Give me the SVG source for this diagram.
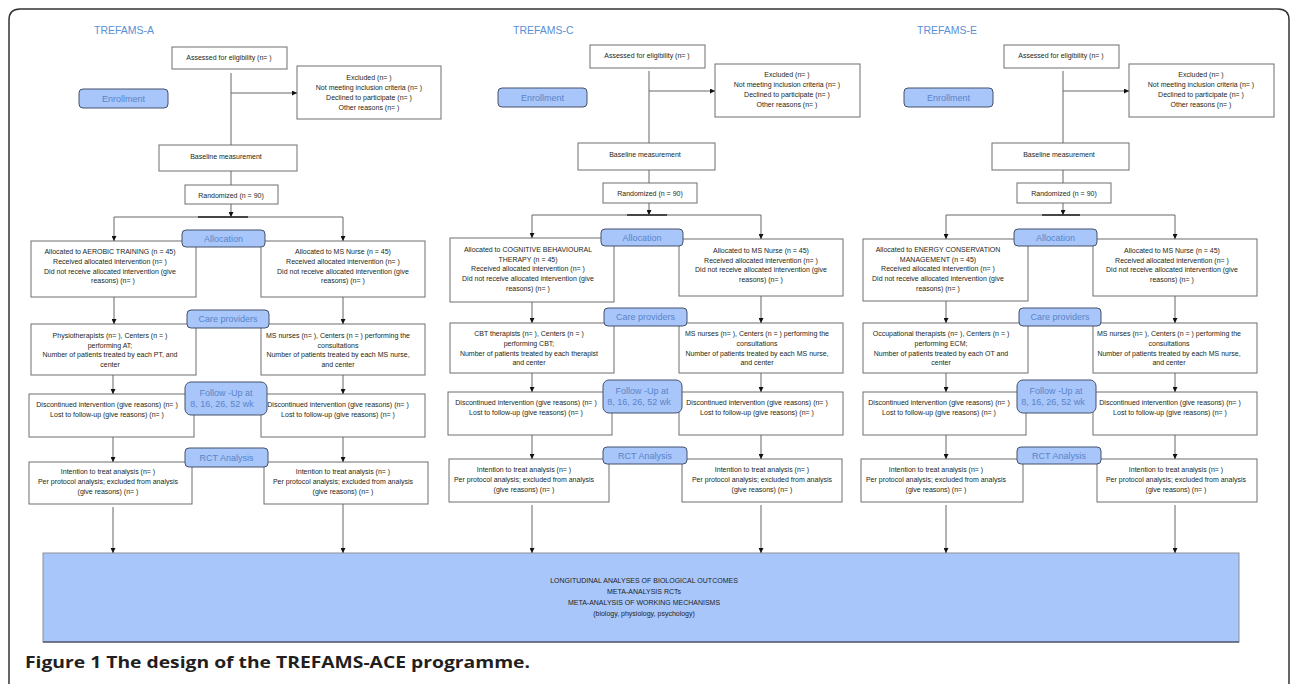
<svg xmlns="http://www.w3.org/2000/svg" width="1290" height="684" viewBox="0 0 1290 684">
<defs>
<marker id="ah" markerWidth="5" markerHeight="5" refX="5" refY="2.5" orient="auto" markerUnits="userSpaceOnUse"><path d="M0,0 L5,2.5 L0,5 z" fill="#111"/></marker>
<style>
.box{fill:#fff;stroke:#6e6e6e;stroke-width:1}
.lab{fill:#a8c6fa;stroke:#44506a;stroke-width:1}
.t{font-family:"Liberation Sans",Arial,sans-serif;font-size:7px;fill:#231f20;text-anchor:middle}
.lt{font-family:"Liberation Sans",Arial,sans-serif;font-size:9px;fill:#5a84c8;text-anchor:middle}
.ttl{font-family:"Liberation Sans",Arial,sans-serif;font-size:10.5px;fill:#5b8fd6}
.ln{stroke:#666;stroke-width:1;fill:none}
.ar{stroke:#666;stroke-width:1;fill:none;marker-end:url(#ah)}
.bt{font-family:"Liberation Sans",Arial,sans-serif;font-size:7px;fill:#231f20;text-anchor:middle}
.cap{font-family:"Open Sans","Liberation Sans",Arial,sans-serif;font-size:16px;font-weight:bold;fill:#231f20}
</style>
</defs>
<rect x="0" y="0" width="1290" height="684" fill="#fff"/>
<path d="M9,684 V20 Q9,9 20,9 H1278 Q1289,9 1289,20 V684" fill="none" stroke="#333" stroke-width="1.5"/>

<!-- ===== Column A ===== -->
<g id="colA">
<text class="ttl" x="94" y="34">TREFAMS-A</text>
<g id="A-assessed"><rect class="box" x="172" y="47" width="115" height="22"/><text class="t" x="229" y="60">Assessed for eligibility (n=  )</text></g>
<g id="A-excluded"><rect class="box" x="297" y="66" width="144" height="53"/>
<text class="t" x="369" y="80">Excluded (n=  )</text><text class="t" x="369" y="90">Not meeting inclusion criteria (n=  )</text><text class="t" x="369" y="100">Declined to participate (n=  )</text><text class="t" x="369" y="110">Other reasons (n=  )</text></g>
<g id="A-baseline"><rect class="box" x="159" y="145" width="138" height="26"/><text class="t" x="226" y="159">Baseline measurement</text></g>
<g id="A-random"><rect class="box" x="185" y="185" width="93" height="19"/><text class="t" x="231" y="198">Randomized (n =  90)</text></g>
<g id="A-alloc1"><rect class="box" x="31" y="241" width="165" height="56"/>
<text class="t" x="110" y="254">Allocated to AEROBIC TRAINING (n = 45)</text><text class="t" x="110" y="264">Received allocated intervention (n=  )</text><text class="t" x="110" y="274">Did not receive allocated intervention (give</text><text class="t" x="113" y="283">reasons) (n=  )</text></g>
<g id="A-alloc2"><rect class="box" x="261" y="241" width="164" height="56"/>
<text class="t" x="343" y="254">Allocated to MS Nurse (n = 45)</text><text class="t" x="343" y="264">Received allocated intervention (n=  )</text><text class="t" x="343" y="274">Did not receive allocated intervention (give</text><text class="t" x="343" y="283">reasons) (n=  )</text></g>
<g id="A-care1"><rect class="box" x="31" y="324" width="165" height="51"/>
<text class="t" x="110" y="338">Physiotherapists (n=  ), Centers (n = )</text><text class="t" x="110" y="348">performing AT;</text><text class="t" x="110" y="357">Number of patients treated by each PT, and</text><text class="t" x="110" y="367">center</text></g>
<g id="A-care2"><rect class="box" x="261" y="324" width="164" height="51"/>
<text class="t" x="338" y="338">MS nurses (n=  ), Centers (n = ) performing the</text><text class="t" x="338" y="348">consultations</text><text class="t" x="338" y="357">Number of patients treated by each MS nurse,</text><text class="t" x="338" y="367">and center</text></g>
<g id="A-disc1"><rect class="box" x="29" y="394" width="165" height="43"/>
<text class="t" x="107" y="407">Discontinued intervention (give reasons) (n=  )</text><text class="t" x="107" y="417">Lost to follow-up (give reasons) (n=  )</text></g>
<g id="A-disc2"><rect class="box" x="261" y="394" width="164" height="43"/>
<text class="t" x="338" y="407">Discontinued intervention (give reasons) (n=  )</text><text class="t" x="338" y="417">Lost to follow-up (give reasons) (n=  )</text></g>
<g id="A-rct1"><rect class="box" x="29" y="462" width="163" height="42"/>
<text class="t" x="108" y="474">Intention to treat analysis (n=  )</text><text class="t" x="108" y="484">Per protocol analysis; excluded from analysis</text><text class="t" x="108" y="494">(give reasons) (n=  )</text></g>
<g id="A-rct2"><rect class="box" x="264" y="462" width="164" height="42"/>
<text class="t" x="343" y="474">Intention to treat analysis (n=  )</text><text class="t" x="343" y="484">Per protocol analysis; excluded from analysis</text><text class="t" x="343" y="494">(give reasons) (n=  )</text></g>
<g id="A-enroll"><rect class="lab" x="79" y="89" width="89" height="19" rx="4"/><text class="lt" x="123.5" y="102">Enrollment</text></g>
<g id="A-allocation"><rect class="lab" x="182" y="230" width="83" height="17" rx="4"/><text class="lt" x="223.5" y="241.5">Allocation</text></g>
<g id="A-careprov"><rect class="lab" x="187" y="310" width="82" height="18" rx="4"/><text class="lt" x="228" y="322">Care providers</text></g>
<g id="A-follow"><rect class="lab" x="185" y="382" width="82" height="33" rx="6"/><text class="lt" x="226" y="395.5">Follow  -Up at</text><text class="lt" x="222" y="407">8, 16, 26, 52 wk</text></g>
<g id="A-rctlab"><rect class="lab" x="185" y="448" width="83" height="19" rx="4"/><text class="lt" x="226.5" y="460.5">RCT Analysis</text></g>
</g>

<!-- ===== Column C ===== -->
<g id="colC">
<text class="ttl" x="513" y="34">TREFAMS-C</text>
<g id="C-assessed"><rect class="box" x="590" y="45" width="115" height="23"/><text class="t" x="647" y="58">Assessed for eligibility (n=  )</text></g>
<g id="C-excluded"><rect class="box" x="715" y="64" width="145" height="53"/>
<text class="t" x="787" y="77">Excluded (n=  )</text><text class="t" x="787" y="87">Not meeting inclusion criteria (n=  )</text><text class="t" x="787" y="97">Declined to participate (n=  )</text><text class="t" x="787" y="107">Other reasons (n=  )</text></g>
<g id="C-baseline"><rect class="box" x="578" y="143" width="137" height="27"/><text class="t" x="645" y="157">Baseline measurement</text></g>
<g id="C-random"><rect class="box" x="603" y="183" width="94" height="20"/><text class="t" x="650" y="196">Randomized (n =  90)</text></g>
<g id="C-alloc1"><rect class="box" x="450" y="238" width="164" height="64"/>
<text class="t" x="528" y="252">Allocated to COGNITIVE BEHAVIOURAL</text><text class="t" x="528" y="262">THERAPY (n = 45)</text><text class="t" x="528" y="271">Received allocated intervention (n=  )</text><text class="t" x="528" y="281">Did not receive allocated intervention (give</text><text class="t" x="528" y="291">reasons) (n=  )</text></g>
<g id="C-alloc2"><rect class="box" x="679" y="239" width="164" height="57"/>
<text class="t" x="761" y="253">Allocated to MS Nurse (n = 45)</text><text class="t" x="761" y="263">Received allocated intervention (n=  )</text><text class="t" x="761" y="272">Did not receive allocated intervention (give</text><text class="t" x="761" y="282">reasons) (n=  )</text></g>
<g id="C-care1"><rect class="box" x="450" y="323" width="164" height="50"/>
<text class="t" x="529" y="336">CBT therapists (n=  ), Centers (n = )</text><text class="t" x="529" y="346">performing CBT;</text><text class="t" x="529" y="356">Number of patients treated by each therapist</text><text class="t" x="529" y="365">and center</text></g>
<g id="C-care2"><rect class="box" x="679" y="323" width="164" height="50"/>
<text class="t" x="757" y="336">MS nurses (n=  ), Centers (n = ) performing the</text><text class="t" x="757" y="346">consultations</text><text class="t" x="757" y="356">Number of patients treated by each MS nurse,</text><text class="t" x="757" y="365">and center</text></g>
<g id="C-disc1"><rect class="box" x="448" y="392" width="164" height="43"/>
<text class="t" x="526" y="405">Discontinued intervention (give reasons) (n=  )</text><text class="t" x="526" y="415">Lost to follow-up (give reasons) (n=  )</text></g>
<g id="C-disc2"><rect class="box" x="679" y="392" width="164" height="43"/>
<text class="t" x="757" y="405">Discontinued intervention (give reasons) (n=  )</text><text class="t" x="757" y="415">Lost to follow-up (give reasons) (n=  )</text></g>
<g id="C-rct1"><rect class="box" x="449" y="459" width="160" height="43"/>
<text class="t" x="524" y="472">Intention to treat analysis (n=  )</text><text class="t" x="524" y="482">Per protocol analysis; excluded from analysis</text><text class="t" x="524" y="492">(give reasons) (n=  )</text></g>
<g id="C-rct2"><rect class="box" x="682" y="459" width="160" height="43"/>
<text class="t" x="762" y="472">Intention to treat analysis (n=  )</text><text class="t" x="762" y="482">Per protocol analysis; excluded from analysis</text><text class="t" x="762" y="492">(give reasons) (n=  )</text></g>
<g id="C-enroll"><rect class="lab" x="498" y="88" width="89" height="19" rx="4"/><text class="lt" x="542.5" y="101">Enrollment</text></g>
<g id="C-allocation"><rect class="lab" x="601" y="229" width="82" height="17" rx="4"/><text class="lt" x="642" y="240.5">Allocation</text></g>
<g id="C-careprov"><rect class="lab" x="604" y="308" width="83" height="18" rx="4"/><text class="lt" x="645.5" y="320">Care providers</text></g>
<g id="C-follow"><rect class="lab" x="603" y="380" width="79" height="33" rx="6"/><text class="lt" x="642" y="394">Follow  -Up at</text><text class="lt" x="639" y="405">8, 16, 26, 52 wk</text></g>
<g id="C-rctlab"><rect class="lab" x="603" y="447" width="84" height="17" rx="4"/><text class="lt" x="645" y="458.5">RCT Analysis</text></g>
</g>

<!-- ===== Column E ===== -->
<g id="colE" transform="translate(414,0)">
<text class="ttl" x="503" y="34">TREFAMS-E</text>
<g id="E-assessed"><rect class="box" x="590" y="45" width="115" height="23"/><text class="t" x="647" y="58">Assessed for eligibility (n=  )</text></g>
<g id="E-excluded"><rect class="box" x="715" y="64" width="145" height="53"/>
<text class="t" x="787" y="77">Excluded (n=  )</text><text class="t" x="787" y="87">Not meeting inclusion criteria (n=  )</text><text class="t" x="787" y="97">Declined to participate (n=  )</text><text class="t" x="787" y="107">Other reasons (n=  )</text></g>
<g id="E-baseline"><rect class="box" x="578" y="143" width="137" height="27"/><text class="t" x="645" y="157">Baseline measurement</text></g>
<g id="E-random"><rect class="box" x="603" y="183" width="94" height="20"/><text class="t" x="650" y="196">Randomized (n =  90)</text></g>
<g id="E-alloc1"><rect class="box" x="449" y="239" width="165" height="62"/>
<text class="t" x="524" y="252">Allocated to ENERGY CONSERVATION</text><text class="t" x="524" y="262">MANAGEMENT (n = 45)</text><text class="t" x="524" y="271">Received allocated intervention (n=  )</text><text class="t" x="524" y="281">Did not receive allocated intervention (give</text><text class="t" x="524" y="291">reasons) (n=  )</text></g>
<g id="E-alloc2"><rect class="box" x="679" y="239" width="164" height="57"/>
<text class="t" x="758" y="253">Allocated to MS Nurse (n = 45)</text><text class="t" x="758" y="263">Received allocated intervention (n=  )</text><text class="t" x="758" y="272">Did not receive allocated intervention (give</text><text class="t" x="758" y="282">reasons) (n=  )</text></g>
<g id="E-care1"><rect class="box" x="449" y="323" width="165" height="50"/>
<text class="t" x="527" y="336">Occupational therapists (n=  ), Centers (n = )</text><text class="t" x="527" y="346">performing ECM;</text><text class="t" x="527" y="356">Number of patients treated by each OT and</text><text class="t" x="527" y="365">center</text></g>
<g id="E-care2"><rect class="box" x="679" y="323" width="164" height="50"/>
<text class="t" x="755" y="336">MS nurses (n=  ), Centers (n = ) performing the</text><text class="t" x="755" y="346">consultations</text><text class="t" x="755" y="356">Number of patients treated by each MS nurse,</text><text class="t" x="755" y="365">and center</text></g>
<g id="E-disc1"><rect class="box" x="449" y="392" width="163" height="43"/>
<text class="t" x="525" y="405">Discontinued intervention (give reasons) (n=  )</text><text class="t" x="525" y="415">Lost to follow-up (give reasons) (n=  )</text></g>
<g id="E-disc2"><rect class="box" x="679" y="392" width="164" height="43"/>
<text class="t" x="756" y="405">Discontinued intervention (give reasons) (n=  )</text><text class="t" x="756" y="415">Lost to follow-up (give reasons) (n=  )</text></g>
<g id="E-rct1"><rect class="box" x="447" y="459" width="162" height="43"/>
<text class="t" x="522" y="472">Intention to treat analysis (n=  )</text><text class="t" x="522" y="482">Per protocol analysis; excluded from analysis</text><text class="t" x="522" y="492">(give reasons) (n=  )</text></g>
<g id="E-rct2"><rect class="box" x="683" y="459" width="160" height="43"/>
<text class="t" x="762" y="472">Intention to treat analysis (n=  )</text><text class="t" x="762" y="482">Per protocol analysis; excluded from analysis</text><text class="t" x="762" y="492">(give reasons) (n=  )</text></g>
<g id="E-enroll"><rect class="lab" x="490" y="88" width="89" height="19" rx="4"/><text class="lt" x="534.5" y="101">Enrollment</text></g>
<g id="E-allocation"><rect class="lab" x="600" y="229" width="83" height="17" rx="4"/><text class="lt" x="641.5" y="240.5">Allocation</text></g>
<g id="E-careprov"><rect class="lab" x="605" y="308" width="82" height="18" rx="4"/><text class="lt" x="646" y="320">Care providers</text></g>
<g id="E-follow"><rect class="lab" x="603" y="380" width="79" height="33" rx="6"/><text class="lt" x="642" y="394">Follow  -Up at</text><text class="lt" x="639" y="405">8, 16, 26, 52 wk</text></g>
<g id="E-rctlab"><rect class="lab" x="603" y="447" width="84" height="17" rx="4"/><text class="lt" x="645" y="458.5">RCT Analysis</text></g>
</g>

<!-- ===== Bottom box ===== -->
<g id="summary">
<rect x="43" y="553" width="1196" height="89" fill="#a9c6fb" stroke="#8a8f99" stroke-width="1"/>
<line x1="43" y1="642" x2="1239" y2="642" stroke="#2a3550" stroke-width="1"/>
<text class="bt" x="644" y="582.5">LONGITUDINAL ANALYSES OF BIOLOGICAL OUTCOMES</text>
<text class="bt" x="644" y="594">META-ANALYSIS RCTs</text>
<text class="bt" x="644" y="604.5">META-ANALYSIS OF WORKING MECHANISMS</text>
<text class="bt" x="644" y="615.5">(biology, physiology, psychology)</text>
</g>

<!-- ===== Connectors ===== -->
<g id="connectors">
<g id="conn-A">
<line class="ln" x1="231" y1="73" x2="231" y2="145"/>
<line class="ar" x1="231" y1="93" x2="297" y2="93"/>
<line class="ln" x1="231" y1="171" x2="231" y2="185"/>
<line class="ar" x1="231" y1="204" x2="231" y2="217"/>
<line class="ln" x1="114" y1="217" x2="343" y2="217"/>
<line x1="198" y1="217" x2="248" y2="217" stroke="#222" stroke-width="1.3"/>
<line class="ar" x1="114" y1="217" x2="114" y2="241"/>
<line class="ar" x1="343" y1="217" x2="343" y2="241"/>
<line class="ar" x1="114" y1="297" x2="114" y2="324"/>
<line class="ar" x1="343" y1="297" x2="343" y2="324"/>
<line class="ar" x1="113" y1="375" x2="113" y2="394"/>
<line class="ar" x1="343" y1="375" x2="343" y2="394"/>
<line class="ar" x1="113" y1="437" x2="113" y2="462"/>
<line class="ar" x1="343" y1="437" x2="343" y2="462"/>
<line class="ar" x1="113" y1="507" x2="113" y2="553"/>
<line class="ar" x1="343" y1="504" x2="343" y2="553"/>
</g>
<g id="conn-C">
<line class="ln" x1="649" y1="71" x2="649" y2="143"/>
<line class="ar" x1="649" y1="91" x2="715" y2="91"/>
<line class="ln" x1="649" y1="170" x2="649" y2="183"/>
<line class="ar" x1="649" y1="203" x2="649" y2="215"/>
<line class="ln" x1="532" y1="215" x2="761" y2="215"/>
<line x1="627" y1="215" x2="667" y2="215" stroke="#222" stroke-width="1.3"/>
<line class="ar" x1="532" y1="215" x2="532" y2="238"/>
<line class="ar" x1="761" y1="215" x2="761" y2="239"/>
<line class="ar" x1="532" y1="302" x2="532" y2="323"/>
<line class="ar" x1="761" y1="296" x2="761" y2="323"/>
<line class="ar" x1="532" y1="373" x2="532" y2="392"/>
<line class="ar" x1="761" y1="373" x2="761" y2="392"/>
<line class="ar" x1="532" y1="435" x2="532" y2="459"/>
<line class="ar" x1="761" y1="435" x2="761" y2="459"/>
<line class="ar" x1="532" y1="505" x2="532" y2="553"/>
<line class="ar" x1="761" y1="505" x2="761" y2="553"/>
</g>
<g id="conn-E">
<line class="ln" x1="1063" y1="71" x2="1063" y2="143"/>
<line class="ar" x1="1063" y1="91" x2="1129" y2="91"/>
<line class="ln" x1="1063" y1="170" x2="1063" y2="183"/>
<line class="ar" x1="1063" y1="203" x2="1063" y2="215"/>
<line class="ln" x1="946" y1="215" x2="1175" y2="215"/>
<line x1="1042" y1="215" x2="1080" y2="215" stroke="#222" stroke-width="1.3"/>
<line class="ar" x1="946" y1="215" x2="946" y2="239"/>
<line class="ar" x1="1175" y1="215" x2="1175" y2="239"/>
<line class="ar" x1="946" y1="301" x2="946" y2="323"/>
<line class="ar" x1="1175" y1="296" x2="1175" y2="323"/>
<line class="ar" x1="946" y1="373" x2="946" y2="392"/>
<line class="ar" x1="1175" y1="373" x2="1175" y2="392"/>
<line class="ar" x1="946" y1="435" x2="946" y2="459"/>
<line class="ar" x1="1175" y1="435" x2="1175" y2="459"/>
<line class="ar" x1="946" y1="505" x2="946" y2="553"/>
<line class="ar" x1="1175" y1="505" x2="1175" y2="553"/>
</g>
</g>

<text class="cap" x="25" y="668" textLength="505" lengthAdjust="spacingAndGlyphs">Figure 1 The design of the TREFAMS-ACE programme.</text>
</svg>
